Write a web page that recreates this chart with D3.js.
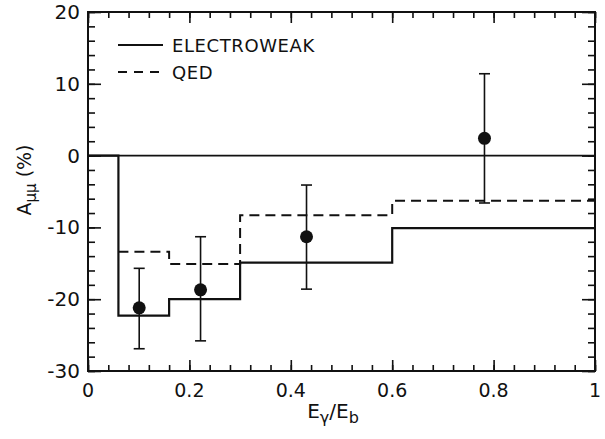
<!DOCTYPE html>
<html><head><meta charset="utf-8">
<script src="https://cdn.jsdelivr.net/npm/d3@7"></script>
<style>body{margin:0;background:#fff}svg{display:block}text{font-family:"DejaVu Sans",sans-serif;fill:#111}</style>
</head><body><svg id="c" width="605" height="439"></svg>
<script>
// data
const ewEdges = [0, 0.06, 0.16, 0.30, 0.60, 1.0];
const ewValues = [0, -22.3, -20.0, -14.9, -10.1];
const qedEdges = [0.06, 0.16, 0.30, 0.60, 1.0];
const qedValues = [-13.4, -15.1, -8.3, -6.3];
const pointX = [0.101, 0.222, 0.431, 0.782];
const pointY = [-21.2, -18.7, -11.3, 2.4];
const errHigh = [-15.7, -11.3, -4.1, 11.4];
const errLow = [-26.9, -25.8, -18.6, -6.6];
const xTickLabels = ["0", "0.2", "0.4", "0.6", "0.8", "1"];
const yTickLabels = ["-30", "-20", "-10", "0", "10", "20"];
const legendLabels = ["ELECTROWEAK", "QED"];

const svg = d3.select("#c");
const L = 88, R = 595, T = 12, B = 371;
const x = d3.scaleLinear().domain([0, 1]).range([L, R]);
const y = d3.scaleLinear().domain([-30, 20]).range([B, T]);

const xMinor = d3.range(0, 1.0001, 0.04);
const xMajor = xTickLabels.map(Number);
const yMinor = d3.range(-30, 20.001, 2);
const yMajor = yTickLabels.map(Number);

const fmtX = d => xTickLabels[xMajor.findIndex(v => Math.abs(v - d) < 1e-9)];
function styleAxis(g){ g.select(".domain").remove(); g.selectAll("line").attr("stroke","#111").attr("stroke-width",1.6); }
svg.append("g").attr("transform",`translate(0,${B})`).call(d3.axisBottom(x).tickValues(xMinor).tickSize(-6).tickFormat("")).call(styleAxis);
svg.append("g").attr("transform",`translate(0,${B})`).call(d3.axisBottom(x).tickValues(xMajor).tickSize(-11).tickFormat("")).call(styleAxis);
svg.append("g").attr("transform",`translate(0,${T})`).call(d3.axisTop(x).tickValues(xMinor).tickSize(-6).tickFormat("")).call(styleAxis);
svg.append("g").attr("transform",`translate(0,${T})`).call(d3.axisTop(x).tickValues(xMajor).tickSize(-11).tickFormat("")).call(styleAxis);
svg.append("g").attr("transform",`translate(${L},0)`).call(d3.axisLeft(y).tickValues(yMinor).tickSize(-7).tickFormat("")).call(styleAxis);
svg.append("g").attr("transform",`translate(${L},0)`).call(d3.axisLeft(y).tickValues(yMajor).tickSize(-13).tickFormat("")).call(styleAxis);
svg.append("g").attr("transform",`translate(${R},0)`).call(d3.axisRight(y).tickValues(yMinor).tickSize(-7).tickFormat("")).call(styleAxis);
svg.append("g").attr("transform",`translate(${R},0)`).call(d3.axisRight(y).tickValues(yMajor).tickSize(-13).tickFormat("")).call(styleAxis);

// frame
svg.append("rect").attr("x",L).attr("y",T).attr("width",R-L).attr("height",B-T)
  .attr("fill","none").attr("stroke","#111").attr("stroke-width",2);

// tick labels
svg.append("g").selectAll("text").data(xMajor).join("text")
  .attr("x", d => x(d)).attr("y", B + 26).attr("text-anchor","middle")
  .attr("font-size",19).text(fmtX);
svg.append("g").selectAll("text").data(yMajor).join("text")
  .attr("x", L - 8).attr("y", d => y(d) + 7).attr("text-anchor","end")
  .attr("font-size",20).text((d,i) => yTickLabels[i]);

// zero line
svg.append("line").attr("x1",x(0)).attr("x2",x(1)).attr("y1",y(0)).attr("y2",y(0))
  .attr("stroke","#111").attr("stroke-width",1.6);

// step lines
function stepPts(edges, vals){
  const p = [];
  vals.forEach((v,i)=>{ p.push([edges[i], v]); p.push([edges[i+1], v]); });
  return p;
}
const line = d3.line().x(d => x(d[0])).y(d => y(d[1]));
svg.append("path").attr("d", line(stepPts(qedEdges, qedValues))).attr("fill","none")
  .attr("stroke","#111").attr("stroke-width",2).attr("stroke-dasharray","10,6");
svg.append("path").attr("d", line(stepPts(ewEdges, ewValues))).attr("fill","none")
  .attr("stroke","#111").attr("stroke-width",2.2);

// error bars and points
const pts = pointX.map((px,i)=>({x:px, y:pointY[i], hi:errHigh[i], lo:errLow[i]}));
const eg = svg.append("g").attr("stroke","#111").attr("stroke-width",1.6);
pts.forEach(p=>{
  eg.append("line").attr("x1",x(p.x)).attr("x2",x(p.x)).attr("y1",y(p.hi)).attr("y2",y(p.lo));
  eg.append("line").attr("x1",x(p.x)-5.5).attr("x2",x(p.x)+5.5).attr("y1",y(p.hi)).attr("y2",y(p.hi));
  eg.append("line").attr("x1",x(p.x)-5.5).attr("x2",x(p.x)+5.5).attr("y1",y(p.lo)).attr("y2",y(p.lo));
});
svg.append("g").selectAll("circle").data(pts).join("circle")
  .attr("cx", d => x(d.x)).attr("cy", d => y(d.y)).attr("r", 6.5).attr("fill","#111");

// legend
const lg = svg.append("g");
lg.append("line").attr("x1",118).attr("x2",163).attr("y1",45).attr("y2",45).attr("stroke","#111").attr("stroke-width",2);
lg.append("line").attr("x1",118).attr("x2",163).attr("y1",72).attr("y2",72).attr("stroke","#111").attr("stroke-width",2).attr("stroke-dasharray","9,7");
lg.append("text").attr("x",172).attr("y",52).attr("font-size",18).attr("letter-spacing",0.6).text(legendLabels[0]);
lg.append("text").attr("x",172).attr("y",79).attr("font-size",18).attr("letter-spacing",0.6).text(legendLabels[1]);

// axis titles
const xt = svg.append("text").attr("x",333).attr("y",418).attr("text-anchor","middle").attr("font-size",20);
xt.append("tspan").text("E");
xt.append("tspan").attr("font-size",16).attr("dy",5).text("γ");
xt.append("tspan").attr("dy",-5).text("/E");
xt.append("tspan").attr("font-size",16).attr("dy",5).text("b");

const yt = svg.append("text").attr("transform","translate(31,180) rotate(-90)").attr("text-anchor","middle").attr("font-size",19);
yt.append("tspan").text("A");
yt.append("tspan").attr("font-size",15).attr("dy",5).text("μμ");
yt.append("tspan").attr("dy",-5).text(" (%)");
</script></body></html>
